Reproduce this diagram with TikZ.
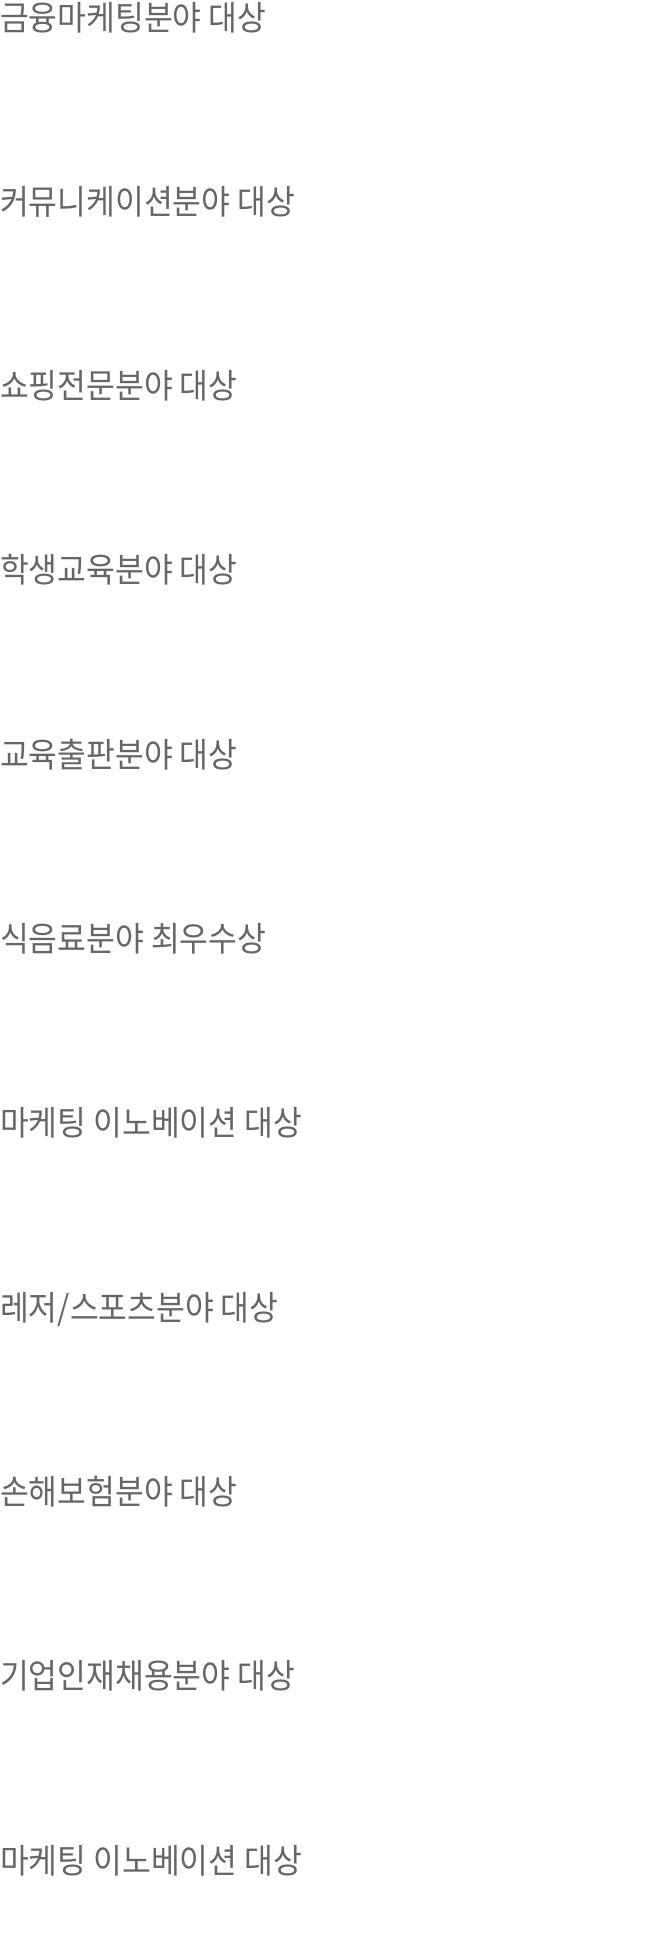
\documentclass[tikz,border=0pt]{standalone}
\usepackage{fontspec}
\usepackage{tikz}
\newfontfamily\krfont[FakeStretch=0.92]{Noto Sans CJK KR}
\definecolor{awardgray}{RGB}{102,102,102}

\begin{document}
\begin{tikzpicture}[x=1pt, y=-1pt,
  award/.style={anchor=base west, inner sep=0pt, text=awardgray, font=\krfont\fontsize{34}{40}\selectfont}]

\useasboundingbox (0,0) rectangle (655,1944);

\node [award] (FIN)  at (0,30)     {금융마케팅분야 대상};
\node [award] (COMM) at (0,214.3)  {커뮤니케이션분야 대상};
\node [award] (SHOP) at (0,398.6)  {쇼핑전문분야 대상};
\node [award] (STUD) at (0,582.9)  {학생교육분야 대상};
\node [award] (PUB)  at (0,767.2)  {교육출판분야 대상};
\node [award] (FOOD) at (0,951.5)  {식음료분야 최우수상};
\node [award] (INNA) at (0,1135.8) {마케팅 이노베이션 대상};
\node [award] (LEIS) at (0,1320.1) {레저/스포츠분야 대상};
\node [award] (INS)  at (0,1504.4) {손해보험분야 대상};
\node [award] (HIRE) at (0,1688.7) {기업인재채용분야 대상};
\node [award] (INNB) at (0,1873)   {마케팅 이노베이션 대상};
\end{tikzpicture}
\end{document}
